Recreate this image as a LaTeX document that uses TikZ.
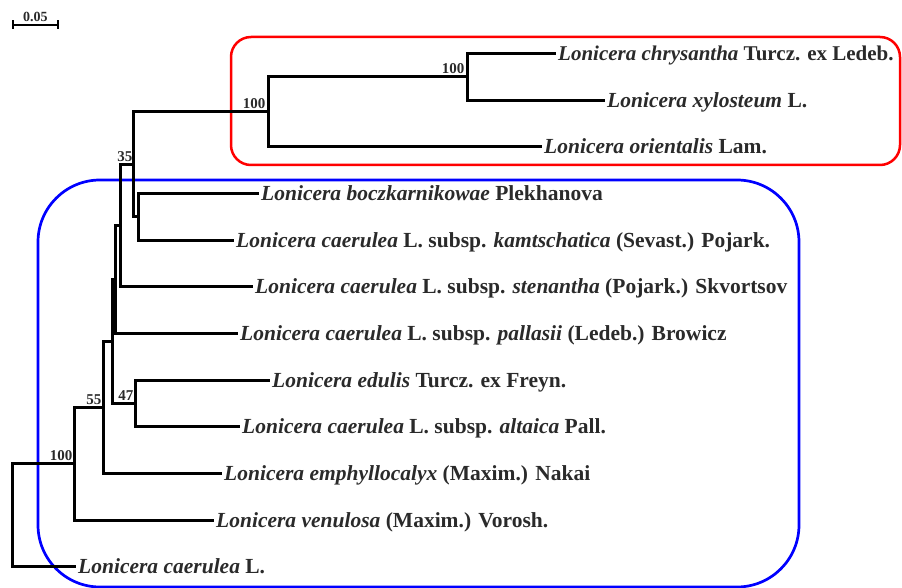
\documentclass[tikz,border=0pt]{standalone}
\usepackage{fontspec}
\setmainfont{Liberation Serif}
\usetikzlibrary{calc}
\definecolor{txt}{HTML}{2A2A2A}
\begin{document}
\begin{tikzpicture}[x=1pt,y=-1pt,
  branch/.style={line width=2.8pt, black, line join=miter},
  leaf/.style={anchor=west, inner xsep=2pt, inner ysep=0pt, text height=16pt, text depth=2pt,
    text=txt, font=\fontsize{21.5}{21.5}\selectfont\bfseries},
  boot/.style={anchor=south east, inner sep=0pt, text=txt, font=\fontsize{15}{15}\selectfont\bfseries},
  redframe/.style={draw=red, line width=2.5pt, rounded corners=20pt},
  blueframe/.style={draw=blue, line width=2.7pt, rounded corners=62pt}]
\useasboundingbox (0,0) rectangle (902,588);
% frames
\draw[redframe] (231,37) rectangle (900,165);
\draw[blueframe] (38,180) rectangle (799,587);
% leaves
\node[leaf, font=\fontsize{21}{21}\selectfont\bfseries] (t1) at (556,53.5) {\textit{Lonicera chrysantha} Turcz. ex Ledeb.};
\node[leaf] (t2) at (605,100.5) {\textit{Lonicera xylosteum} L.};
\node[leaf] (t3) at (542,146.5) {\textit{Lonicera orientalis} Lam.};
\node[leaf] (t4) at (259,193.5) {\textit{Lonicera boczkarnikowae} Plekhanova};
\node[leaf] (t5) at (234,240.5) {\textit{Lonicera caerulea} L. subsp. \textit{kamtschatica} (Sevast.) Pojark.};
\node[leaf] (t6) at (253,286.5) {\textit{Lonicera caerulea} L. subsp. \textit{stenantha} (Pojark.) Skvortsov};
\node[leaf] (t7) at (238,333.5) {\textit{Lonicera caerulea} L. subsp. \textit{pallasii} (Ledeb.) Browicz};
\node[leaf] (t8) at (270,380.5) {\textit{Lonicera edulis} Turcz. ex Freyn.};
\node[leaf] (t9) at (240,426.5) {\textit{Lonicera caerulea} L. subsp. \textit{altaica} Pall.};
\node[leaf] (t10) at (222,473.5) {\textit{Lonicera emphyllocalyx} (Maxim.) Nakai};
\node[leaf] (t11) at (214,520.5) {\textit{Lonicera venulosa} (Maxim.) Vorosh.};
\node[leaf] (t12) at (76,566.5) {\textit{Lonicera caerulea} L.};
% internal nodes
\coordinate (N1) at (467.5,76.5);
\coordinate (N2) at (268.5,111.5);
\coordinate (N3) at (138.5,216.5);
\coordinate (N4) at (133.5,164.5);
\coordinate (N5) at (120.5,225.5);
\coordinate (N6) at (115.5,279.5);
\coordinate (N7) at (135.5,403.5);
\coordinate (N8) at (112.5,341.5);
\coordinate (N9) at (103.5,407.5);
\coordinate (N10) at (74.5,463.5);
\coordinate (R) at (12.5,515.5);
% branches
\draw[branch] (N1) |- (t1.west);
\draw[branch] (N1) |- (t2.west);
\draw[branch] (N2) |- (N1);
\draw[branch] (N2) |- (t3.west);
\draw[branch] (N3) |- (t4.west);
\draw[branch] (N3) |- (t5.west);
\draw[branch] (N4) |- (N2);
\draw[branch] (N4) |- (N3);
\draw[branch] (N5) |- (N4);
\draw[branch] (N5) |- (t6.west);
\draw[branch] (N6) |- (N5);
\draw[branch] (N6) |- (t7.west);
\draw[branch] (N7) |- (t8.west);
\draw[branch] (N7) |- (t9.west);
\draw[branch] (N8) |- (N6);
\draw[branch] (N8) |- (N7);
\draw[branch] (N9) |- (N8);
\draw[branch] (N9) |- (t10.west);
\draw[branch] (N10) |- (N9);
\draw[branch] (N10) |- (t11.west);
\draw[branch] (R) |- (N10);
\draw[branch] (R) |- (t12.west);
% bootstrap values
\node[boot] (b1) at ([xshift=-3pt,yshift=2.5pt]N1) {100};
\node[boot] (b2) at ([xshift=-3pt,yshift=2.5pt]N2) {100};
\node[boot] (b4) at ([xshift=-1pt,yshift=2.5pt]N4) {35};
\node[boot] (b7) at ([xshift=-2pt,yshift=2.5pt]N7) {47};
\node[boot] (b9) at ([xshift=-2pt,yshift=2.5pt]N9) {55};
\node[boot] (b10) at ([xshift=-2pt,yshift=2.5pt]N10) {100};
% scale bar
\coordinate (s1) at (13,25);
\coordinate (s2) at (58,25);
\draw[line width=2.2pt] (s1) -- (s2);
\draw[line width=2.2pt] ([yshift=4.5pt]s1) -- ([yshift=-4.5pt]s1);
\draw[line width=2.2pt] ([yshift=4.5pt]s2) -- ([yshift=-4.5pt]s2);
\node[anchor=south, inner sep=0pt, text=txt, font=\fontsize{14}{14}\selectfont\bfseries] (sl) at ([yshift=3pt]$(s1)!0.5!(s2)$) {0.05};
\end{tikzpicture}
\end{document}
